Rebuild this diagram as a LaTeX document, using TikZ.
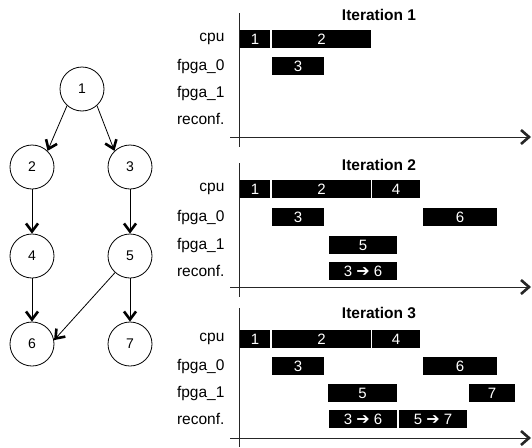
\documentclass[tikz,border=0pt]{standalone}
\usepackage{fontspec}
\setmainfont{Liberation Sans}
\newfontfamily\arrowfont{DejaVu Sans}
\usetikzlibrary{positioning,arrows.meta}

\tikzset{
  vertex/.style={circle, draw, line width=0.8pt, minimum size=44pt, inner sep=0pt, font=\fontsize{14}{16}\selectfont},
  dep/.style={line width=0.8pt, -{Straight Barb[length=8pt,width=12pt,line width=2.6pt]}},
  axis/.style={line width=0.9pt, draw=black!85},
  taxis/.style={axis, -{Straight Barb[length=8pt,width=14pt,line width=2.6pt]}},
  task/.style={fill=black, text=white, minimum height=18pt, inner sep=0pt, font=\fontsize{15}{17}\selectfont},
  row/.style={anchor=east, font=\fontsize{15.5}{17}\selectfont},
  title/.style={font=\fontsize{15.5}{17}\selectfont\bfseries}
}
\newcommand{\swap}{\ {\arrowfont\fontsize{16}{17}\selectfont ➔}\ }

\begin{document}
\begin{tikzpicture}[x=1pt,y=-1pt]
\useasboundingbox (0,0) rectangle (532,447);
% task graph
\node[vertex] (n1) at (82,89) {1};
\node[vertex] (n2) at (32,167) {2};
\node[vertex] (n3) at (130,167) {3};
\node[vertex] (n4) at (32,256) {4};
\node[vertex] (n5) at (130,256) {5};
\node[vertex] (n6) at (32,344) {6};
\node[vertex] (n7) at (130,344) {7};
\draw[dep] (n1.-132) -- (n2.46);
\draw[dep] (n1.-48) -- (n3.134);
\draw[dep] (n2) -- (n4);
\draw[dep] (n3) -- (n5);
\draw[dep] (n4) -- (n6);
\draw[dep] (n5) -- (n6.10);
\draw[dep] (n5) -- (n7);

% time axes, one per iteration
\draw[axis] (239,13) -- (239,147);
\draw[taxis] (230,137) -- (531,137);
\draw[axis] (239,163) -- (239,297);
\draw[taxis] (230,287) -- (531,287);
\draw[axis] (239,308) -- (239,447);
\draw[taxis] (230,438) -- (531,438);

% iteration 1
\node[title] (t1) at (379,15) {Iteration 1};
\node[row] (cpu1) at (228,39) {cpu};
\node[row] (fa1) at (228,66) {fpga\_0};
\node[row] (fb1) at (228,93) {fpga\_1};
\node[row] (rc1) at (228,119) {reconf.};
\node[task, minimum width=30pt] (a1) at (255,39) {1};
\node[task, minimum width=99pt] (a2) at (321.5,39) {2};
\node[task, minimum width=52pt] (a3) at (298,66) {3};

% iteration 2
\node[title] (t2) at (379,165) {Iteration 2};
\node[row] (cpu2) at (228,189) {cpu};
\node[row] (fa2) at (228,217) {fpga\_0};
\node[row] (fb2) at (228,245) {fpga\_1};
\node[row] (rc2) at (228,271) {reconf.};
\node[task, minimum width=30pt] (b1) at (255,189) {1};
\node[task, minimum width=99pt] (b2) at (321.5,189) {2};
\node[task, minimum width=48pt] (b4) at (396,189) {4};
\node[task, minimum width=52pt] (b3) at (298,217) {3};
\node[task, minimum width=74pt] (b6) at (460,217) {6};
\node[task, minimum width=68pt] (b5) at (363,245) {5};
\node[task, minimum width=68pt] (br36) at (363,271) {3\swap6};

% iteration 3
\node[title] (t3) at (379,313) {Iteration 3};
\node[row] (cpu3) at (228,339) {cpu};
\node[row] (fa3) at (228,366) {fpga\_0};
\node[row] (fb3) at (228,393) {fpga\_1};
\node[row] (rc3) at (228,419) {reconf.};
\node[task, minimum width=30pt] (c1) at (255,339) {1};
\node[task, minimum width=99pt] (c2) at (321.5,339) {2};
\node[task, minimum width=48pt] (c4) at (396,339) {4};
\node[task, minimum width=52pt] (c3) at (298,366) {3};
\node[task, minimum width=74pt] (c6) at (460,366) {6};
\node[task, minimum width=69pt] (c5) at (362.5,393) {5};
\node[task, minimum width=46pt] (c7) at (492,393) {7};
\node[task, minimum width=68pt] (cr36) at (363,419) {3\swap6};
\node[task, minimum width=68pt] (cr57) at (433,419) {5\swap7};
\end{tikzpicture}
\end{document}
